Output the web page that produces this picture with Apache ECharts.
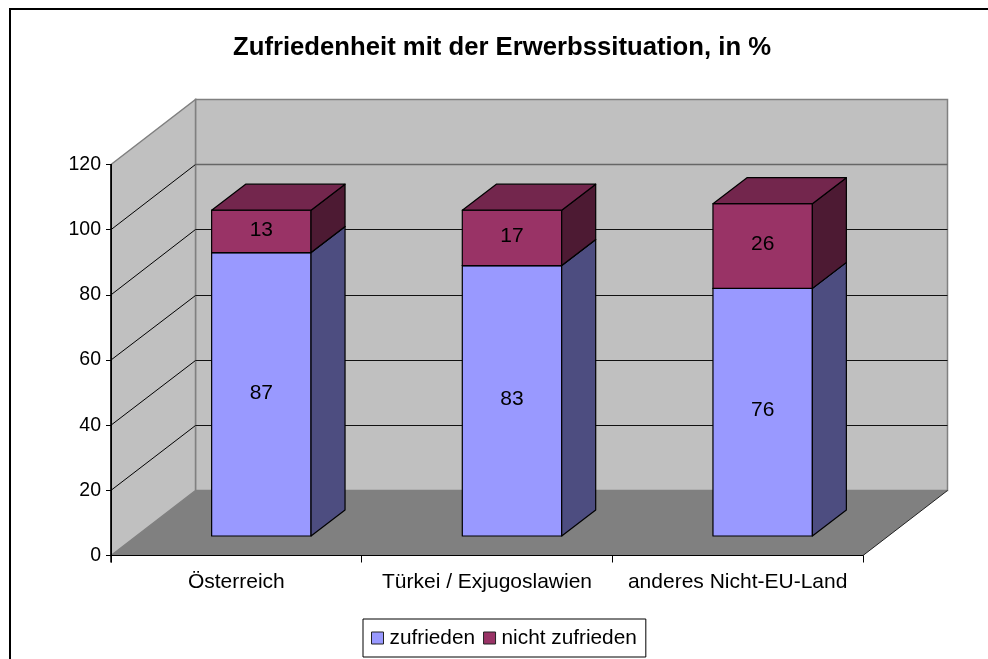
<!DOCTYPE html>
<html>
<head>
<meta charset="utf-8">
<title>Zufriedenheit mit der Erwerbssituation</title>
<script src="https://cdn.jsdelivr.net/npm/echarts@6/dist/echarts.min.js"></script>
<style>
  html, body { margin: 0; padding: 0; background: #fff; }
  #chart { width: 988px; height: 659px; }
</style>
</head>
<body>
<div id="chart"></div>
<script>
var categories = ['Österreich', 'Türkei / Exjugoslawien', 'anderes Nicht-EU-Land'];
var zufrieden = [87, 83, 76];
var nichtZufrieden = [13, 17, 26];
var gridValues = [0, 20, 40, 60, 80, 100, 120];

var fontName = '"Liberation Sans", Arial, sans-serif';

// Tiefe der 3D-Darstellung
var wallDx = 84.5, wallDy = -65;
var barDx = 34, barDy = -26;
var barOffsetX = 25, barOffsetY = -19.5;
var barWidth = 99.4;

function renderWalls(params, api) {
  var c = params.coordSys;
  var x0 = c.x, x1 = c.x + c.width;
  var yTop = c.y, yBottom = c.y + c.height;
  var wallStyle = {fill: '#c0c0c0', stroke: '#808080', lineWidth: 1.5};
  return {
    type: 'group',
    children: [
      {type: 'polygon', shape: {points: [
        [x0 + wallDx, yTop + wallDy], [x1 + wallDx, yTop + wallDy],
        [x1 + wallDx, yBottom + wallDy], [x0 + wallDx, yBottom + wallDy]
      ]}, style: wallStyle},
      {type: 'polygon', shape: {points: [
        [x0, yTop], [x0 + wallDx, yTop + wallDy],
        [x0 + wallDx, yBottom + wallDy], [x0, yBottom]
      ]}, style: wallStyle},
      {type: 'polygon', shape: {points: [
        [x0, yBottom], [x1, yBottom],
        [x1 + wallDx, yBottom + wallDy], [x0 + wallDx, yBottom + wallDy]
      ]}, style: {fill: '#808080'}},
      {type: 'line', shape: {x1: x1, y1: yBottom, x2: x1 + wallDx, y2: yBottom + wallDy},
        style: {stroke: '#222', lineWidth: 1}},
      // vordere Kanten
      {type: 'line', shape: {x1: x0, y1: yTop, x2: x0, y2: yBottom + 7},
        style: {stroke: '#000', lineWidth: 1.5}},
      {type: 'line', shape: {x1: x0, y1: yBottom, x2: x1, y2: yBottom},
        style: {stroke: '#000', lineWidth: 1}}
    ]
  };
}

function renderGridLine(params, api) {
  var v = api.value(0);
  if (v === 0 || v === 120) {
    return {type: 'group', children: []};
  }
  var c = params.coordSys;
  var y = api.coord([0, v])[1];
  var xBack = c.x + wallDx;
  var yBack = Math.floor(y + wallDy) + 0.5;
  return {
    type: 'group',
    children: [
      {type: 'line', shape: {x1: c.x, y1: y, x2: xBack, y2: yBack},
        style: {stroke: '#000', lineWidth: 1}},
      {type: 'line', shape: {x1: xBack, y1: yBack, x2: xBack + c.width, y2: yBack},
        style: {stroke: v === 100 ? '#666' : '#111', lineWidth: v === 100 ? 1.5 : 1}}
    ]
  };
}

function makeBarRender(front, side, top) {
  return function (params, api) {
    var cat = api.value(0);
    var val = api.value(1);
    var base = api.value(2);
    var pTop = api.coord([cat, base + val]);
    var pBase = api.coord([cat, base]);
    var cx = pTop[0] + barOffsetX;
    var xl = cx - barWidth / 2, xr = cx + barWidth / 2;
    var yt = pTop[1] + barOffsetY, yb = pBase[1] + barOffsetY;
    var edge = {stroke: '#000', lineWidth: 1.2, lineJoin: 'round'};
    return {
      type: 'group',
      children: [
        {type: 'polygon', shape: {points: [[xl, yb], [xr, yb], [xr, yt], [xl, yt]]},
          style: Object.assign({fill: front}, edge)},
        {type: 'polygon', shape: {points: [
          [xr, yb], [xr + barDx, yb + barDy], [xr + barDx, yt + barDy], [xr, yt]
        ]}, style: Object.assign({fill: side}, edge)},
        {type: 'polygon', shape: {points: [
          [xl, yt], [xr, yt], [xr + barDx, yt + barDy], [xl + barDx, yt + barDy]
        ]}, style: Object.assign({fill: top}, edge)},
        {type: 'text', style: {
          x: cx, y: (yt + yb) / 2 - 1.5, text: String(val),
          fill: '#000', fontSize: 21, fontFamily: fontName,
          align: 'center', verticalAlign: 'middle'
        }}
      ]
    };
  };
}

var chart = echarts.init(document.getElementById('chart'));

var option = {
  animation: false,
  backgroundColor: '#fff',
  title: {
    text: 'Zufriedenheit mit der Erwerbssituation, in %',
    left: 233,
    top: 35,
    padding: 0,
    textStyle: {fontFamily: fontName, fontSize: 25.7, fontWeight: 'bold', color: '#000'}
  },
  legend: {
    data: ['zufrieden', 'nicht zufrieden'],
    left: 363,
    top: 619,
    orient: 'horizontal',
    padding: [8, 9, 8, 8],
    itemWidth: 12,
    itemHeight: 12,
    itemGap: 8,
    borderColor: '#000',
    borderWidth: 1,
    backgroundColor: '#fff',
    icon: 'rect',
    selectedMode: false,
    itemStyle: {borderColor: '#222', borderWidth: 1},
    textStyle: {fontFamily: fontName, fontSize: 20.8, color: '#000', lineHeight: 22, padding: [0, 0, 0, 1]}
  },
  grid: {left: 111, top: 164.5, width: 752, height: 391},
  xAxis: {
    type: 'category',
    data: categories,
    z: 5,
    axisLine: {lineStyle: {color: '#000', width: 1}},
    axisTick: {show: true, length: 7, lineStyle: {color: '#000'}},
    axisLabel: {interval: 0, fontFamily: fontName, fontSize: 21, color: '#000', margin: 16}
  },
  yAxis: {
    type: 'value',
    min: 0,
    max: 120,
    interval: 20,
    z: 5,
    splitLine: {show: false},
    axisLine: {show: true, lineStyle: {color: '#000', width: 1}},
    axisTick: {show: true, length: 5, lineStyle: {color: '#000'}},
    axisLabel: {fontFamily: fontName, fontSize: 19.5, color: '#000', margin: 10}
  },
  graphic: [{
    type: 'polyline',
    z: 10,
    silent: true,
    shape: {points: [[10, 659], [10, 9], [988, 9]]},
    style: {stroke: '#000', fill: null, lineWidth: 2}
  }],
  series: [
    {
      name: 'waende',
      type: 'custom',
      z: 1,
      silent: true,
      clip: false,
      data: [[0]],
      encode: {y: 0},
      renderItem: renderWalls
    },
    {
      name: 'gitter',
      type: 'custom',
      z: 2,
      silent: true,
      clip: false,
      data: gridValues.map(function (v) { return [v]; }),
      encode: {y: 0},
      renderItem: renderGridLine
    },
    {
      name: 'zufrieden',
      type: 'custom',
      z: 3,
      silent: true,
      clip: false,
      itemStyle: {color: '#9999ff'},
      data: zufrieden.map(function (v, i) { return [i, v, 0]; }),
      encode: {x: 0, y: 1},
      renderItem: makeBarRender('#9999ff', '#4d4d80', '#737399')
    },
    {
      name: 'nicht zufrieden',
      type: 'custom',
      z: 4,
      silent: true,
      clip: false,
      itemStyle: {color: '#993366'},
      data: nichtZufrieden.map(function (v, i) { return [i, v, zufrieden[i]]; }),
      encode: {x: 0, y: 1},
      renderItem: makeBarRender('#993366', '#4d1a33', '#73264d')
    }
  ]
};

chart.setOption(option);
</script>
</body>
</html>
